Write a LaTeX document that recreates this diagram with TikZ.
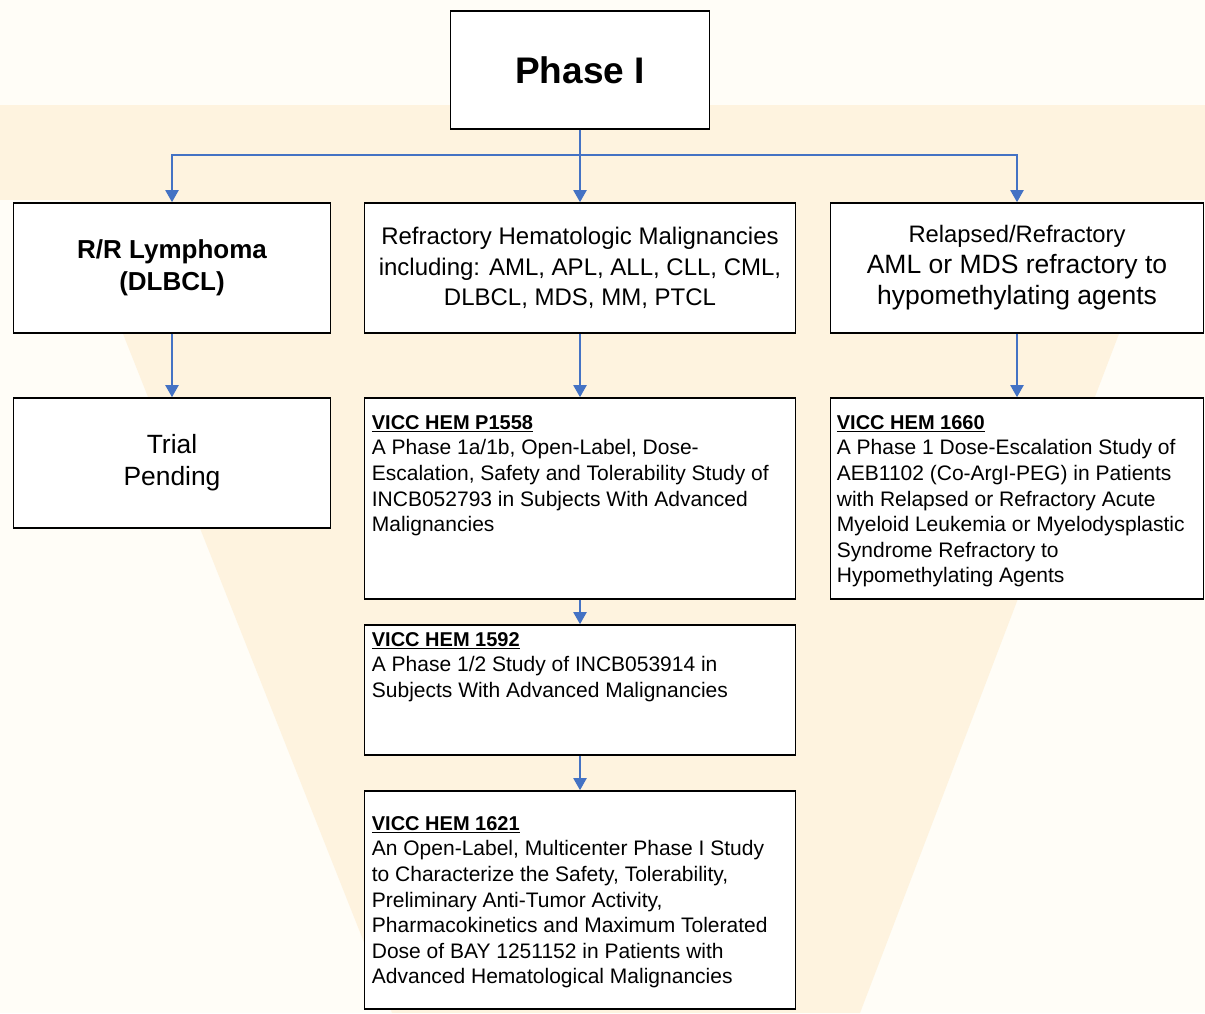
\documentclass[tikz,border=0pt]{standalone}
\usepackage{fontspec}
\setmainfont{Liberation Sans}
\usetikzlibrary{positioning,arrows.meta}
\definecolor{bgcream}{HTML}{FFFDF7}
\definecolor{bgtan}{HTML}{FEF3DF}
\definecolor{linkblue}{HTML}{4472C4}

\begin{document}
\begin{tikzpicture}[x=1pt, y=-1pt,
    box/.style={draw=black, line width=1.6pt, fill=white, inner sep=0pt},
    headbox/.style={box, align=center, minimum height=130pt},
    studytxt/.style={inner sep=0pt, align=left, font=\fontsize{21}{25.6}\selectfont},
    link/.style={draw=linkblue, line width=2pt, -{Triangle[width=13pt,length=12pt]}}]
    \useasboundingbox (0,0) rectangle (1205,1013);
    \fill[bgcream] (0,0) rectangle (1205,1013);
    \fill[bgtan] (0,105) rectangle (1205,200);
    \fill[bgtan] (70,200) -- (1170,200) -- (860,1013) -- (392,1013) -- cycle;

    \node[box, minimum width=259pt, minimum height=118pt, font=\fontsize{37}{44}\selectfont\bfseries] (phase) at (580,70) {Phase I};

    \node[headbox, minimum width=317pt, font=\fontsize{26}{32}\selectfont\bfseries] (lym) at (172,268) {R/R Lymphoma\\(DLBCL)};
    \node[headbox, minimum width=431pt, font=\fontsize{24}{30.5}\selectfont] (refr) at (580,268) {Refractory Hematologic Malignancies\\including: AML, APL, ALL, CLL, CML,\\DLBCL, MDS, MM, PTCL};
    \node[headbox, minimum width=373pt, font=\fontsize{26.5}{31}\selectfont] (relap) at (1017,268) {{\fontsize{23.8}{31}\selectfont Relapsed/Refractory}\\AML or MDS refractory to\\hypomethylating agents};

    \node[headbox, minimum width=317pt, font=\fontsize{26.4}{32}\selectfont] (pend) at (172,463) {Trial\\Pending};
    \node[box, minimum width=431pt, minimum height=201pt] (p1558) at (580,498.5) {};
    \node[box, minimum width=373pt, minimum height=201pt] (h1660) at (1017,498.5) {};
    \node[box, minimum width=431pt, minimum height=130pt] (h1592) at (580,690) {};
    \node[box, minimum width=431pt, minimum height=218pt] (h1621) at (580,900) {};

    \node[studytxt, below right=18pt and 8pt of p1558.north west] (p1558txt) {{\fontsize{20}{25.6}\selectfont\underline{\textbf{VICC HEM P1558}}}\\A Phase 1a/1b, Open-Label, Dose-\\Escalation, Safety and Tolerability Study of\\INCB052793 in Subjects With Advanced\\Malignancies};
    \node[studytxt, below right=18pt and 7pt of h1660.north west] (h1660txt) {{\fontsize{20}{25.6}\selectfont\underline{\textbf{VICC HEM 1660}}}\\A Phase 1 Dose-Escalation Study of\\AEB1102 (Co-ArgI-PEG) in Patients\\with Relapsed or Refractory Acute\\Myeloid Leukemia or Myelodysplastic\\Syndrome Refractory to\\Hypomethylating Agents};
    \node[studytxt, below right=8pt and 8pt of h1592.north west] (h1592txt) {{\fontsize{20}{25.6}\selectfont\underline{\textbf{VICC HEM 1592}}}\\A Phase 1/2 Study of INCB053914 in\\Subjects With Advanced Malignancies};
    \node[studytxt, below right=26pt and 8pt of h1621.north west] (h1621txt) {{\fontsize{20}{25.6}\selectfont\underline{\textbf{VICC HEM 1621}}}\\An Open-Label, Multicenter Phase I Study\\to Characterize the Safety, Tolerability,\\Preliminary Anti-Tumor Activity,\\Pharmacokinetics and Maximum Tolerated\\Dose of BAY 1251152 in Patients with\\Advanced Hematological Malignancies};

    \draw[link] (phase.south) -- ++(0,25) -| (lym.north);
    \draw[link] (phase.south) -- ++(0,25) -| (relap.north);
    \draw[link] (phase.south) -- (refr.north);
    \draw[link] (lym) -- (pend);
    \draw[link] (refr) -- (p1558);
    \draw[link] (relap) -- (h1660);
    \draw[link] (p1558) -- (h1592);
    \draw[link] (h1592) -- (h1621);
\end{tikzpicture}
\end{document}
